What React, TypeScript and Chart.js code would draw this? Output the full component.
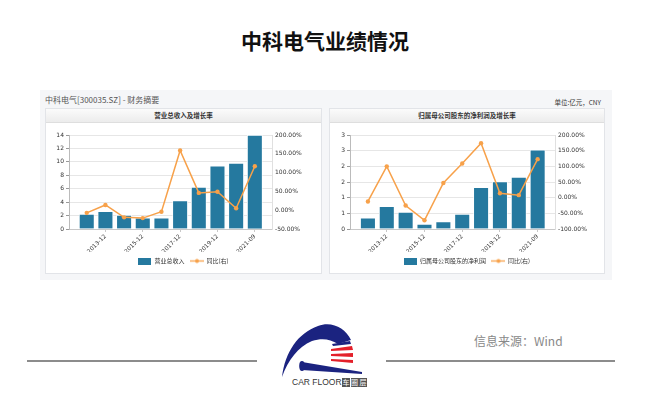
import React, { useEffect, useRef } from 'react';
import { Chart, registerables } from 'chart.js';

Chart.register(...registerables);

// ---------- data ----------
const categories = ['2012-12', '2013-12', '2014-12', '2015-12', '2016-12', '2017-12', '2018-12', '2019-12', '2020-12', '2021-09'];
const revenue = [2.2, 2.6, 2.06, 1.65, 1.65, 4.2, 6.2, 9.37, 9.8, 13.95];
const revenueYoY = [-7, 14, -19, -21, -4, 159, 46, 49, 5, 117];
const netProfit = [0.35, 0.72, 0.53, 0.15, 0.23, 0.47, 1.32, 1.51, 1.65, 2.52];
const netProfitYoY = [-12, 100, -25, -72, 47, 109, 174, 14, 8, 123];

const revenueTicks = [0, 2, 4, 6, 8, 10, 12, 14];
const revenueYoYTicks = [-50, 0, 50, 100, 150, 200];
const profitTicks = [0, 0.5, 1, 1.5, 2, 2.5, 3];
const profitYoYTicks = [-100, -50, 0, 50, 100, 150, 200];

const BLUE = '#25799f';
const ORANGE = '#f7a14a';
const CJK = '"Noto Sans CJK SC", "Noto Sans", sans-serif';
const NUM = '"DejaVu Sans", "Noto Sans CJK SC", sans-serif';

function makeIcon(kind: 'bar' | 'line', color: string) {
  const c = document.createElement('canvas');
  const g = c.getContext('2d')!;
  if (kind === 'bar') {
    c.width = 13; c.height = 7;
    g.fillStyle = color; g.fillRect(0, 0, 13, 7);
  } else {
    c.width = 14; c.height = 7;
    g.strokeStyle = color; g.lineWidth = 1.3;
    g.beginPath(); g.moveTo(0, 3.5); g.lineTo(14, 3.5); g.stroke();
    g.fillStyle = color; g.beginPath(); g.arc(7, 3.5, 2, 0, Math.PI * 2); g.fill();
  }
  return c;
}

type Props = {
  barLabel: string;
  bars: number[];
  yoy: number[];
  leftTicks: number[];
  rightTicks: number[];
  leftFmt: (v: number) => string;
  leftWidth: number;
  width: number;
  height: number;
};

function ComboChart(p: Props) {
  const ref = useRef<HTMLCanvasElement>(null);
  useEffect(() => {
    const idx = categories.map((_, i) => i);
    const shown = idx.filter((i) => i % 2 === 1);
    const icons = [makeIcon('bar', BLUE), makeIcon('line', ORANGE)];
    const chart = new Chart(ref.current!, {
      type: 'bar',
      data: {
        datasets: [
          {
            type: 'bar',
            label: p.barLabel,
            data: idx.map((i) => ({ x: i, y: p.bars[i] })),
            yAxisID: 'y',
            backgroundColor: BLUE,
            borderColor: '#ffffff',
            borderWidth: 0.8,
            barThickness: 15,
            order: 1,
          } as any,
          {
            type: 'line',
            label: '同比(右)',
            data: idx.map((i) => ({ x: i, y: p.yoy[i] })),
            yAxisID: 'y1',
            borderColor: ORANGE,
            backgroundColor: ORANGE,
            borderWidth: 1.5,
            pointRadius: 2.2,
            pointBorderWidth: 0,
            pointBackgroundColor: ORANGE,
            tension: 0,
            order: 0,
          } as any,
        ],
      },
      options: {
        animation: false,
        responsive: false,
        devicePixelRatio: 1,
        events: [],
        layout: { padding: { top: 12, left: 0, right: 0, bottom: 0 } },
        plugins: {
          tooltip: { enabled: false },
          legend: {
            position: 'bottom',
            labels: {
              font: { family: CJK, size: 6 },
              color: '#333',
              usePointStyle: true,
              pointStyleWidth: 13,
              padding: 6,
              generateLabels: (ch: any) =>
                ch.data.datasets.map((ds: any, i: number) => ({
                  text: ds.label,
                  pointStyle: icons[i],
                  fillStyle: i === 0 ? BLUE : ORANGE,
                  strokeStyle: 'transparent',
                  lineWidth: 0,
                  hidden: false,
                  datasetIndex: i,
                  fontColor: '#333',
                })),
            },
          },
        },
        scales: {
          x: {
            type: 'linear',
            offset: false,
            min: -0.95,
            max: 9.92,
            afterBuildTicks: (s: any) => { s.ticks = shown.map((v) => ({ value: v })); },
            afterFit: (s: any) => { s.height = 23; },
            ticks: {
              autoSkip: false,
              minRotation: 45,
              maxRotation: 45,
              padding: 1,
              color: '#333',
              font: { family: NUM, size: 5.8 },
              callback: (v: any) => categories[v] ?? '',
            },
            grid: { offset: false, drawOnChartArea: false, tickLength: 3, color: '#c8c8c8' },
            border: { color: '#c8c8c8' },
          },
          y: {
            position: 'left',
            min: p.leftTicks[0],
            max: p.leftTicks[p.leftTicks.length - 1],
            afterBuildTicks: (s: any) => { s.ticks = p.leftTicks.map((v) => ({ value: v })); },
            afterFit: (s: any) => { s.width = p.leftWidth; },
            ticks: { color: '#333', font: { family: NUM, size: 6 }, padding: 2, callback: (v: any) => p.leftFmt(v) },
            grid: { color: '#e6e6e6', tickLength: 3, tickColor: '#999' },
            border: { color: '#bbbbbb' },
          },
          y1: {
            position: 'right',
            min: p.rightTicks[0],
            max: p.rightTicks[p.rightTicks.length - 1],
            afterBuildTicks: (s: any) => { s.ticks = p.rightTicks.map((v) => ({ value: v })); },
            afterFit: (s: any) => { s.width = 49; },
            ticks: { color: '#333', font: { family: NUM, size: 6 }, padding: 3, callback: (v: any) => `${Number(v).toFixed(2)}%` },
            grid: { drawOnChartArea: false, drawTicks: false },
            border: { color: '#e0e0e0' },
          },
        },
      } as any,
    });
    return () => chart.destroy();
  }, []);
  return <canvas ref={ref} width={p.width} height={p.height} style={{ display: 'block', width: p.width, height: p.height }} />;
}

function Panel(props: { left: number; width: number; title: string; children: React.ReactNode }) {
  return (
    <div
      style={{
        position: 'absolute',
        left: props.left,
        top: 108,
        width: props.width,
        height: 166,
        background: '#fff',
        border: '1px solid #e2e4e8',
        boxSizing: 'border-box',
      }}
    >
      <div
        style={{
          height: 13,
          background: 'linear-gradient(#fbfbfb, #ececec)',
          borderBottom: '1px solid #dedede',
          textAlign: 'center',
          fontFamily: CJK,
          fontSize: 6.5,
          lineHeight: '13px',
          color: '#333',
          fontWeight: 700,
        }}
      >
        {props.title}
      </div>
      {props.children}
    </div>
  );
}

function Logo() {
  return (
    <div style={{ position: 'absolute', left: 276, top: 315, width: 92, height: 80 }}>
      <svg width={92} height={62} viewBox="276 315 92 62" style={{ position: 'absolute', left: 0, top: 0 }}>
        <path d="M282,377 C285,352 298,333 318,326 C332,321 345,328 351,340 L338,344 C330,339 322,338 312,341 C298,347 288,360 282,377 Z" fill="#1b2380" />
        <path d="M332,344 L350,341 L351,344 L333,346 Z" fill="#1b2380" />
        <path d="M331,349 L352,346 L353,350 L331,351 Z" fill="#e3202a" />
        <path d="M331,354 L353,353 L353,357 L331,356 Z" fill="#e3202a" />
        <path d="M331,359 L353,360 L353,363 L331,361 Z" fill="#e3202a" />
        <ellipse cx={302} cy={366} rx={2.8} ry={5} fill="#1b2380" />
        <path d="M302,362 L362,372 L362,374 L302,370 Z" fill="#1b2380" />
      </svg>
      <div
        style={{
          position: 'absolute',
          left: 16,
          top: 62,
          fontFamily: '"Liberation Sans", Arial, sans-serif',
          fontSize: 8.5,
          color: '#333',
          whiteSpace: 'nowrap',
          lineHeight: '10px',
          display: 'flex',
          alignItems: 'center',
        }}
      >
        <span>CAR FLOOR</span>
        {['车', '圈', '层'].map((c) => (
          <span key={c} style={{ background: '#555', color: '#fff', fontFamily: CJK, fontSize: 7, lineHeight: '9px', width: 8, textAlign: 'center', marginLeft: 0.5 }}>
            {c}
          </span>
        ))}
      </div>
    </div>
  );
}

export default function App() {
  return (
    <div style={{ position: 'absolute', left: 0, top: 0, width: 650, height: 406, background: '#fff', overflow: 'hidden' }}>
      <div
        style={{
          position: 'absolute',
          left: 0,
          top: 26,
          width: 650,
          textAlign: 'center',
          fontFamily: CJK,
          fontWeight: 700,
          fontSize: 21,
          lineHeight: '28px',
          color: '#111',
        }}
      >
        中科电气业绩情况
      </div>

      <div style={{ position: 'absolute', left: 40, top: 90, width: 572, height: 190, background: '#f5f6f8' }} />
      <div style={{ position: 'absolute', left: 45, top: 94, fontFamily: CJK, fontSize: 8, lineHeight: '11px', color: '#555', whiteSpace: 'nowrap' }}>
        中科电气[300035.SZ] - 财务摘要
      </div>
      <div style={{ position: 'absolute', left: 540, width: 61, textAlign: 'right', top: 97, fontFamily: CJK, fontSize: 6.5, lineHeight: '10px', color: '#333', whiteSpace: 'nowrap' }}>
        单位:亿元，CNY
      </div>

      <Panel left={45} width={277} title="营业总收入及增长率">
        <ComboChart
          barLabel="营业总收入"
          bars={revenue}
          yoy={revenueYoY}
          leftTicks={revenueTicks}
          rightTicks={revenueYoYTicks}
          leftFmt={(v) => String(v)}
          leftWidth={23}
          width={275}
          height={151}
        />
      </Panel>
      <Panel left={329} width={276} title="归属母公司股东的净利润及增长率">
        <ComboChart
          barLabel="归属母公司股东的净利润"
          bars={netProfit}
          yoy={netProfitYoY}
          leftTicks={profitTicks}
          rightTicks={profitYoYTicks}
          leftFmt={(v) => String(Math.round(v))}
          leftWidth={20}
          width={274}
          height={151}
        />
      </Panel>

      <div style={{ position: 'absolute', left: 27, top: 360, width: 230, height: 2, background: '#8c8c8c' }} />
      <div style={{ position: 'absolute', left: 386, top: 360, width: 229, height: 2, background: '#8c8c8c' }} />
      <Logo />
      <div style={{ position: 'absolute', left: 474, top: 333, fontFamily: CJK, fontSize: 12, lineHeight: '16px', color: '#888', whiteSpace: 'nowrap' }}>
        信息来源：Wind
      </div>
    </div>
  );
}
